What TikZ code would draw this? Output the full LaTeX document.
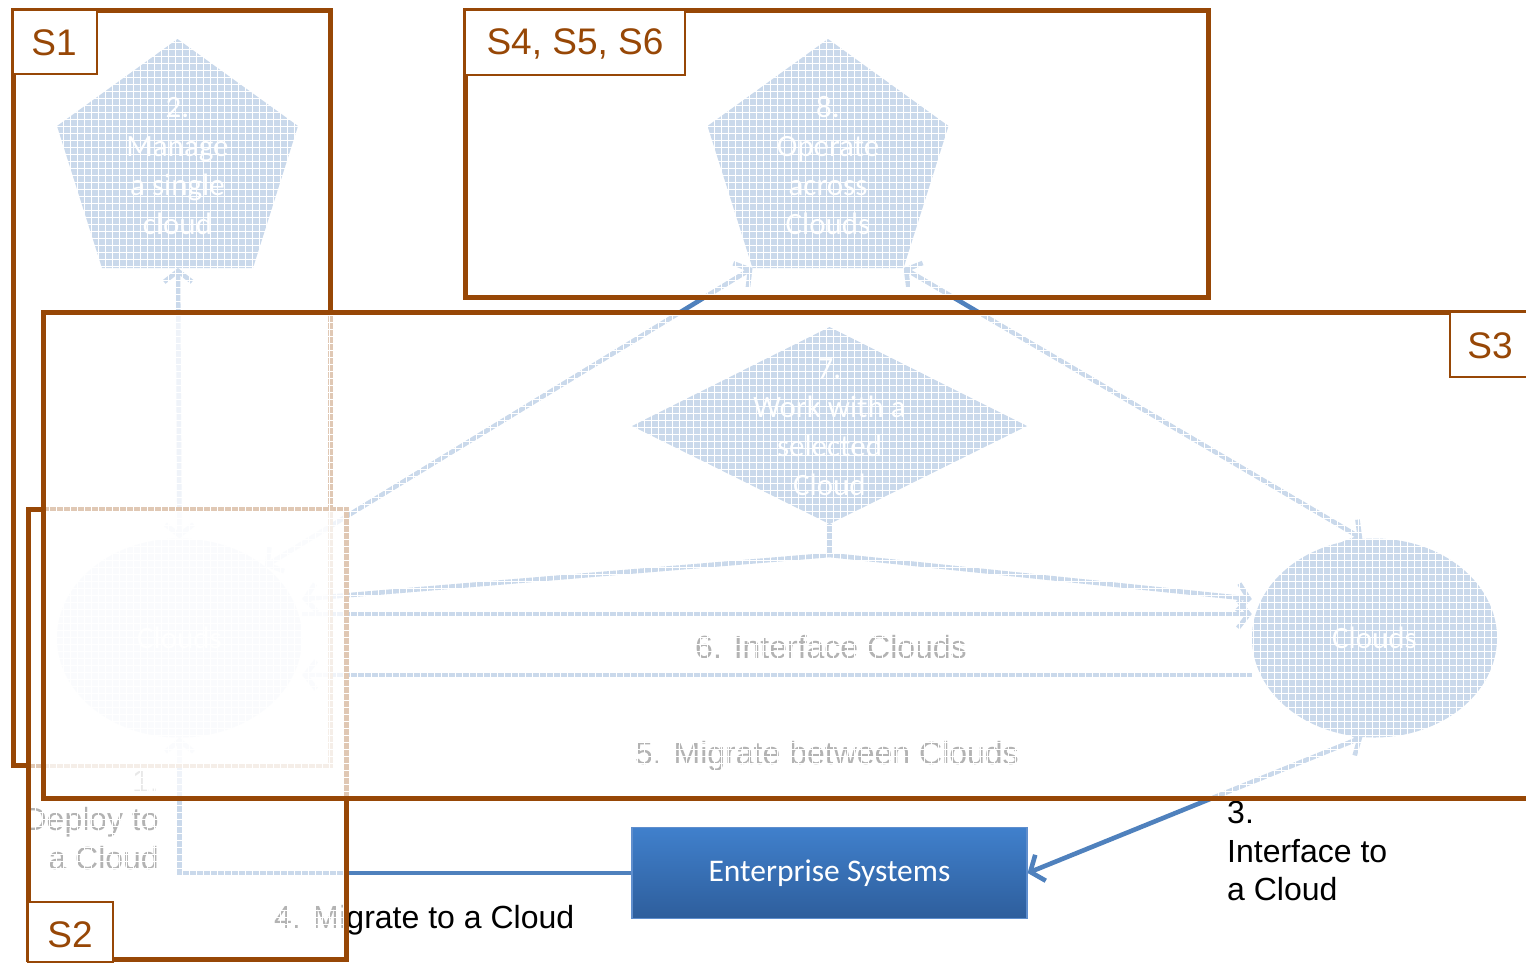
\documentclass[tikz,border=0pt]{standalone}
\usepackage{fontspec}
\setmainfont{Liberation Sans}
\newfontfamily\calfont{Carlito}
\usetikzlibrary{shapes.geometric,arrows.meta,calc}
\definecolor{sorange}{RGB}{151,71,6}
\definecolor{cblue}{RGB}{79,129,189}
\definecolor{estop}{RGB}{64,128,204}
\definecolor{esbot}{RGB}{46,94,156}
\definecolor{esedge}{RGB}{95,142,205}
\tikzset{
  conn/.style={draw=cblue, line width=4.6pt},
  shapetext/.style={text=white, font=\calfont\fontsize{31}{39}\selectfont, align=center, inner sep=0pt},
  lbl/.style={text=black, font=\fontsize{32}{38.5}\selectfont, inner sep=0pt},
  sbox/.style={draw=sorange, line width=5pt},
  slabbox/.style={draw=sorange, line width=1.5pt, fill=white},
  stext/.style={text=sorange, font=\fontsize{37}{44}\selectfont, inner sep=0pt},
  cloudshape/.style={ellipse, fill=cblue, minimum width=245pt, minimum height=199pt, inner sep=0pt, text=white, font=\calfont\fontsize{31}{39}\selectfont},
}
\newcommand\fadebox[2]{%
  \fill[white, fill opacity=0.7] #1 rectangle #2;
  \begin{scope}
    \clip #1 rectangle #2;
    \draw[white, line width=0.75pt, step=7pt] (-14,-14) grid (1554,980);
  \end{scope}}
\begin{document}
\begin{tikzpicture}[x=1pt, y=-1pt, >={Straight Barb[length=11pt,width=28pt]}]
\clip (0,0) rectangle (1526,962);
\fill[white] (0,0) rectangle (1526,962);

% ---------- base diagram ----------
% pentagon 2
\coordinate (p2t) at (177.5,39);
\coordinate (p2l) at (57,126);
\coordinate (p2r) at (298,126);
\coordinate (p2bl) at (102,268);
\coordinate (p2br) at (253,268);
\coordinate (p2b) at (178,268);
\fill[cblue] (p2t) -- (p2r) -- (p2br) -- (p2bl) -- (p2l) -- cycle;
\node[shapetext] (p2txt) at (177.5,166) {2.\\Manage\\a single\\cloud};

% pentagon 8
\coordinate (p8t) at (828,39);
\coordinate (p8l) at (707.5,126);
\coordinate (p8r) at (948.5,126);
\coordinate (p8bl) at (752.5,268);
\coordinate (p8br) at (903.5,268);
\fill[cblue] (p8t) -- (p8r) -- (p8br) -- (p8bl) -- (p8l) -- cycle;
\node[shapetext] (p8txt) at (828,166) {8.\\Operate\\across\\Clouds};

% diamond 7
\coordinate (d7t) at (829.5,327);
\coordinate (d7l) at (632,426);
\coordinate (d7r) at (1027,426);
\coordinate (d7b) at (829.5,524);
\coordinate (br7) at (829.5,555);
\fill[cblue] (d7t) -- (d7r) -- (d7b) -- (d7l) -- cycle;
\node[shapetext] (d7txt) at (829.5,427.5) {7.\\Work with a\\selected\\Cloud};

% clouds
\node[cloudshape] (lc) at (179.5,638) {Clouds};
\node[cloudshape] (rc) at (1374.5,638) {Clouds};

% enterprise systems
\node[draw=esedge, line width=1.2pt, top color=estop, bottom color=esbot,
      minimum width=395pt, minimum height=91pt, inner sep=0pt,
      text=white, font=\calfont\fontsize{31.5}{36}\selectfont] (es) at (829.5,873) {Enterprise Systems};

% connectors
\draw[conn, <->] (lc.north) -- (p2b);
\draw[conn, <->] (lc.40) -- (p8bl);
\draw[conn, <->] (p8br) -- (rc.97);
\draw[conn] (d7b) -- (br7);
\draw[conn, ->] (br7) -- ($(lc.east)+(0,-39)$);
\draw[conn, ->] (br7) -- ($(rc.west)+(0,-39)$);
\draw[conn, ->] ($(lc.east)+(0,-24)$) -- ($(rc.west)+(0,-24)$);
\draw[conn, ->] ($(rc.west)+(0,37)$) -- ($(lc.east)+(0,37)$);
\draw[conn, <->] (rc.263) -- (es.east);
\draw[conn, ->] (es.west) -| (lc.south);

% labels
\node[lbl, align=right, anchor=east] (lab1) at (159,820) {1.\\Deploy to\\a Cloud};
\node[lbl, anchor=west] (lab4) at (274,920) {4. Migrate to a Cloud};
\node[lbl, align=left, anchor=west] (lab3) at (1227,851) {3.\\Interface to\\a Cloud};
\node[lbl] (lab6) at (831,647) {6. Interface Clouds};
\node[lbl] (lab5) at (827,756) {5. Migrate between Clouds};

% ---------- S1 ----------
\fadebox{(13,10)}{(330,765)}
\draw[sbox] (13,10) rectangle (330,765);
\draw[slabbox] (13,10) rectangle (97,74);
\node[stext] (s1) at (54,43) {S1};

% ---------- S4, S5, S6 ----------
\fadebox{(465,10)}{(1208,297)}
\draw[sbox] (465,10) rectangle (1208,297);
\draw[slabbox] (465,10) rectangle (685,75);
\node[stext] (s456) at (575,44) {S4, S5, S6};

% ---------- S2 ----------
\fadebox{(28,509)}{(346,959)}
\draw[sbox] (28,509) rectangle (346,959);
\draw[slabbox] (28,902) rectangle (113,962);
\node[stext] (s2) at (70,935) {S2};

% ---------- S3 ----------
\fadebox{(43,312)}{(1545,798)}
\draw[sbox] (43,312) rectangle (1545,798);
\draw[slabbox] (1450,312) rectangle (1545,377);
\node[stext] (s3) at (1490,346) {S3};
\end{tikzpicture}
\end{document}
